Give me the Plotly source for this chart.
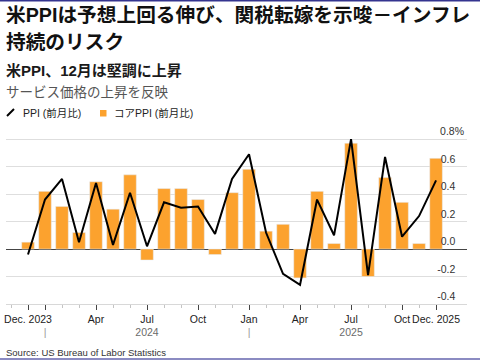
import plotly.graph_objects as go

# ---- data ----
months = ["2023-12", "2024-01", "2024-02", "2024-03", "2024-04", "2024-05", "2024-06",
          "2024-07", "2024-08", "2024-09", "2024-10", "2024-11", "2024-12",
          "2025-01", "2025-02", "2025-03", "2025-04", "2025-05", "2025-06",
          "2025-07", "2025-08", "2025-09", "2025-10", "2025-11", "2025-12"]
core_ppi = [0.05, 0.42, 0.31, 0.12, 0.49, 0.29, 0.54, -0.08, 0.44, 0.44, 0.36, -0.04, 0.41,
            0.58, 0.13, 0.18, -0.21, 0.42, 0.04, 0.77, -0.20, 0.52, 0.34, 0.04, 0.66]
ppi = [-0.04, 0.36, 0.51, 0.05, 0.48, 0.03, 0.41, 0.02, 0.34, 0.30, 0.31, 0.11, 0.51,
       0.69, 0.12, -0.18, -0.26, 0.36, 0.10, 0.80, -0.19, 0.67, 0.09, 0.24, 0.50]
tick_months = ["2023-12", "2024-01", "2024-04", "2024-07", "2024-10",
               "2025-01", "2025-04", "2025-07", "2025-10", "2025-12"]
tick_text = ["Dec. 2023",
             "<br><span style='color:#9a9a9a'>|</span>",
             "Apr",
             "Jul<br><span style='color:#6b6b6b'>2024</span>",
             "Oct",
             "Jan<br><span style='color:#9a9a9a'>|</span>",
             "Apr",
             "Jul<br><span style='color:#6b6b6b'>2025</span>",
             "Oct",
             "Dec. 2025"]
y_ticks = [-0.4, -0.2, 0.0, 0.2, 0.4, 0.6, 0.8]
y_text = ["-0.4", "-0.2", "0.0", "0.2", "0.4", "0.6", "0.8%"]

title_l1 = "米PPIは予想上回る伸び、関税転嫁を示唆－インフレ"
title_l2 = "持続のリスク"
subtitle = "米PPI、12月は堅調に上昇"
desc = "サービス価格の上昇を反映"
leg_ppi = "PPI (前月比)"
leg_core = "コアPPI (前月比)"
source = "Source: US Bureau of Labor Statistics"

ORANGE = "#FCA22E"
FONT = "Liberation Sans, Arial, Noto Sans CJK JP, sans-serif"

# ---- layout geometry (pixels) ----
W, H = 480, 360
ML, MR, MT, MB = 6, 13, 124, 56
PW, PH = W - ML - MR, H - MT - MB


def px(x):
    return (x - ML) / PW


def py(y):
    return (H - MB - y) / PH


x_idx = list(range(len(months)))
tickvals = [months.index(m) for m in tick_months]
# right-align numbers, let % overhang
y_ticktext = [t if t.endswith("%") else t + "\u00a0\u00a0\u00a0" for t in y_text]

fig = go.Figure()
fig.add_trace(go.Bar(x=x_idx, y=core_ppi, marker_color=ORANGE, width=0.74,
                     name=leg_core, showlegend=False))
fig.add_trace(go.Scatter(x=x_idx, y=ppi, mode="lines",
                         line=dict(color="black", width=2), name=leg_ppi,
                         showlegend=False))

fig.update_layout(
    width=W, height=H,
    margin=dict(l=ML, r=MR, t=MT, b=MB, autoexpand=False),
    paper_bgcolor="white", plot_bgcolor="white",
    font=dict(family=FONT, size=10.5, color="#222"),
)
fig.update_xaxes(
    range=[-1.294, 25.82],
    tickmode="array", tickvals=tickvals, ticktext=tick_text, tickangle=0,
    ticks="outside", ticklen=5, tickcolor="#444", tickwidth=1,
    minor=dict(dtick=1, tick0=0, ticks="outside", ticklen=3, tickcolor="#c4c4c4", showgrid=False),
    showgrid=False, zeroline=False, automargin=False,
    showline=True, linecolor="#d8d8d8", linewidth=1,
    tickfont=dict(size=10.5, color="#222"),
)
fig.update_yaxes(
    side="right",
    range=[-0.4, 0.91],
    tickmode="array", tickvals=y_ticks, ticktext=y_ticktext,
    ticklabelposition="inside top", ticks="", automargin=False,
    showgrid=True, gridcolor="#dedede", gridwidth=1,
    zeroline=True, zerolinecolor="#444", zerolinewidth=1,
    tickfont=dict(size=10.5, color="#333"),
)

ann = []
ann.append(dict(text="<b>" + title_l1 + "</b>", x=px(4), y=py(15), xanchor="left", yanchor="middle",
                font=dict(size=19.7, color="#111", family=FONT)))
ann.append(dict(text="<b>" + title_l2 + "</b>", x=px(4), y=py(42), xanchor="left", yanchor="middle",
                font=dict(size=19.7, color="#111", family=FONT)))
ann.append(dict(text="<b>" + subtitle + "</b>", x=px(4), y=py(71), xanchor="left", yanchor="middle",
                font=dict(size=15, color="#1a1a1a", family=FONT)))
ann.append(dict(text=desc, x=px(4), y=py(92), xanchor="left", yanchor="middle",
                font=dict(size=13.5, color="#555", family=FONT)))
ann.append(dict(text=leg_ppi, x=px(21), y=py(113), xanchor="left", yanchor="middle",
                font=dict(size=10.5, color="#222", family=FONT)))
ann.append(dict(text=leg_core, x=px(112), y=py(113), xanchor="left", yanchor="middle",
                font=dict(size=10.5, color="#222", family=FONT)))
ann.append(dict(text=source, x=px(4), y=py(352), xanchor="left", yanchor="middle",
                font=dict(size=9.5, color="#333", family=FONT)))
for a in ann:
    a.update(xref="paper", yref="paper", showarrow=False)
fig.update_layout(annotations=ann)

shapes = [
    # legend icons
    dict(type="line", x0=px(7), y0=py(116), x1=px(14), y1=py(109),
         line=dict(color="black", width=2)),
    dict(type="rect", x0=px(100), y0=py(116.5), x1=px(106.5), y1=py(110),
         fillcolor=ORANGE, line=dict(width=0)),
    # frame lines top and bottom
    dict(type="line", x0=px(0), y0=py(0.8), x1=px(480), y1=py(0.8),
         line=dict(color="#34348f", width=1.6)),
    dict(type="line", x0=px(0), y0=py(359), x1=px(480), y1=py(359),
         line=dict(color="#6464ae", width=1.6)),
]
for s in shapes:
    s.update(xref="paper", yref="paper", layer="above")
fig.update_layout(shapes=shapes)

fig.write_html("out.html", config={"displayModeBar": False},
               post_script="document.body.style.margin='0';document.body.style.padding='0';")
